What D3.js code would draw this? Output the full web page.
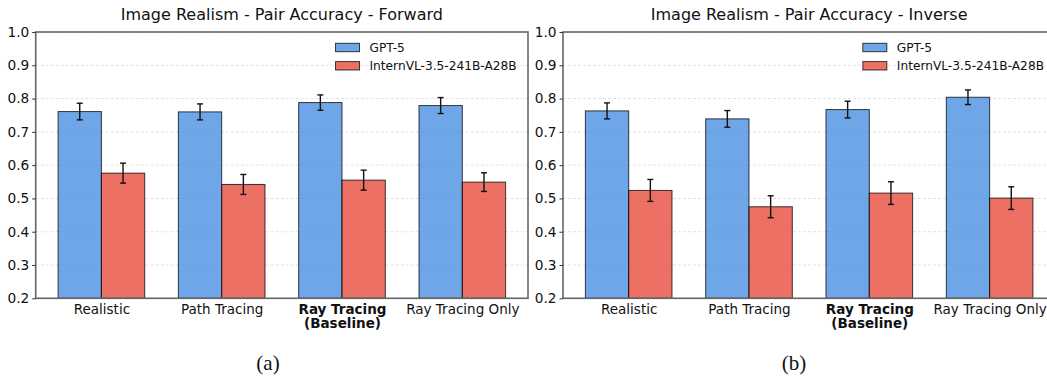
<!DOCTYPE html>
<html>
<head>
<meta charset="utf-8">
<script src="https://cdn.jsdelivr.net/npm/d3@7"></script>
<style>
  html, body { margin: 0; padding: 0; background: #fff; }
  svg { display: block; }
</style>
</head>
<body>
<svg id="chart" width="1047" height="381"></svg>
<script>
// ---- data ----
const categories = ["Realistic", "Path Tracing", "Ray Tracing\n(Baseline)", "Ray Tracing Only"];
const boldCategory = 2;
const seriesNames = ["GPT-5", "InternVL-3.5-241B-A28B"];
const panelTitles = ["Image Realism - Pair Accuracy - Forward", "Image Realism - Pair Accuracy - Inverse"];
const panelCaptions = ["(a)", "(b)"];

const forwardGPT5 = [0.761, 0.760, 0.788, 0.779];
const forwardGPT5Err = [0.025, 0.024, 0.023, 0.024];
const forwardIntern = [0.576, 0.542, 0.555, 0.549];
const forwardInternErr = [0.030, 0.030, 0.030, 0.028];

const inverseGPT5 = [0.763, 0.739, 0.767, 0.804];
const inverseGPT5Err = [0.024, 0.025, 0.025, 0.022];
const inverseIntern = [0.524, 0.475, 0.516, 0.501];
const inverseInternErr = [0.033, 0.033, 0.034, 0.034];

const yTicks = [0.2, 0.3, 0.4, 0.5, 0.6, 0.7, 0.8, 0.9, 1.0];

// ---- layout ----
const svg = d3.select("#chart");
const colors = ["#4A90E2", "#E74C3C"];
const barW = 0.36;
const panels = [
  { left: 35.7, right: 528, values: [forwardGPT5, forwardIntern], errs: [forwardGPT5Err, forwardInternErr], captionX: 268 },
  { left: 563, right: 1055.3, values: [inverseGPT5, inverseIntern], errs: [inverseGPT5Err, inverseInternErr], captionX: 794 }
];
const plotTop = 32, plotBottom = 298.3;
const font = "'DejaVu Sans', sans-serif";

panels.forEach((p, pi) => {
  const x = d3.scaleLinear().domain([-0.546, 3.546]).range([p.left, p.right]);
  const y = d3.scaleLinear().domain([0.2, 1.0]).range([plotBottom, plotTop]);
  const g = svg.append("g");

  // grid
  g.append("g").selectAll("line").data(yTicks).join("line")
    .attr("x1", p.left).attr("x2", p.right)
    .attr("y1", d => y(d)).attr("y2", d => y(d))
    .attr("stroke", "#dadada").attr("stroke-width", 0.8)
    .attr("stroke-dasharray", "3,2");

  // bars
  p.values.forEach((vals, si) => {
    const off = si === 0 ? -barW : 0;
    g.append("g").selectAll("rect").data(vals).join("rect")
      .attr("x", (d, i) => x(i + off))
      .attr("width", x(barW) - x(0))
      .attr("y", d => y(d))
      .attr("height", d => y(0.2) - y(d))
      .attr("fill", colors[si]).attr("fill-opacity", 0.8)
      .attr("stroke", "#000").attr("stroke-opacity", 0.75).attr("stroke-width", 1);
  });

  // error bars
  p.values.forEach((vals, si) => {
    const off = si === 0 ? -barW / 2 : barW / 2;
    const eg = g.append("g").attr("stroke", "#111").attr("stroke-width", 1.4);
    vals.forEach((v, i) => {
      const cx = x(i + off), e = p.errs[si][i];
      eg.append("line").attr("x1", cx).attr("x2", cx).attr("y1", y(v - e)).attr("y2", y(v + e));
      eg.append("line").attr("x1", cx - 3).attr("x2", cx + 3).attr("y1", y(v - e)).attr("y2", y(v - e));
      eg.append("line").attr("x1", cx - 3).attr("x2", cx + 3).attr("y1", y(v + e)).attr("y2", y(v + e));
    });
  });

  // frame
  g.append("rect").attr("x", p.left).attr("y", plotTop)
    .attr("width", p.right - p.left).attr("height", plotBottom - plotTop)
    .attr("fill", "none").attr("stroke", "#666").attr("stroke-width", 1.6);

  // y axis
  const yAxis = d3.axisLeft(y).tickValues(yTicks).tickFormat(d3.format(".1f")).tickSize(3.5).tickPadding(3);
  const ya = g.append("g").attr("transform", `translate(${p.left},0)`).call(yAxis);
  ya.select(".domain").remove();
  ya.selectAll("line").attr("stroke", "#333").attr("stroke-width", 1);
  ya.selectAll("text").attr("font-family", font).attr("font-size", 13.7).attr("fill", "#111");

  // x axis (labels only)
  const xAxis = d3.axisBottom(x).tickValues(d3.range(categories.length)).tickSize(0).tickFormat("");
  const xa = g.append("g").attr("transform", `translate(0,${plotBottom})`).call(xAxis);
  xa.select(".domain").remove();
  xa.selectAll(".tick").each(function(d, i) {
    const t = d3.select(this).append("text")
      .attr("font-family", font).attr("font-size", 13.5).attr("fill", "#111")
      .attr("text-anchor", "middle")
      .attr("font-weight", i === boldCategory ? "bold" : "normal");
    categories[i].split("\n").forEach((line, li) => {
      t.append("tspan").attr("x", 0).attr("y", 15.5 + li * 14.5).text(line);
    });
  });

  // title
  svg.append("text").attr("x", (p.left + p.right) / 2).attr("y", 19.5)
    .attr("text-anchor", "middle").attr("font-family", font).attr("font-size", 16)
    .attr("fill", "#111").text(panelTitles[pi]);

  // legend
  const lg = svg.append("g");
  const tmp = seriesNames.map((n, si) => lg.append("text")
    .attr("font-family", font).attr("font-size", 12.2).attr("fill", "#111")
    .attr("dominant-baseline", "central").text(n));
  const maxW = d3.max(tmp.map(t => t.node().getComputedTextLength()));
  const textX = p.right - 11.3 - maxW;
  tmp.forEach((t, si) => {
    const cy = 47.5 + si * 18.3;
    t.attr("x", textX).attr("y", cy);
    lg.append("rect").attr("x", textX - 34).attr("y", cy - 4.2).attr("width", 24).attr("height", 8.4)
      .attr("fill", colors[si]).attr("fill-opacity", 0.8)
      .attr("stroke", "#000").attr("stroke-opacity", 0.75).attr("stroke-width", 1);
  });

  // caption
  svg.append("text").attr("x", p.captionX).attr("y", 370)
    .attr("text-anchor", "middle").attr("font-family", "'Liberation Serif', 'Times New Roman', serif")
    .attr("font-size", 21).attr("fill", "#111").text(panelCaptions[pi]);
});
</script>
</body>
</html>
